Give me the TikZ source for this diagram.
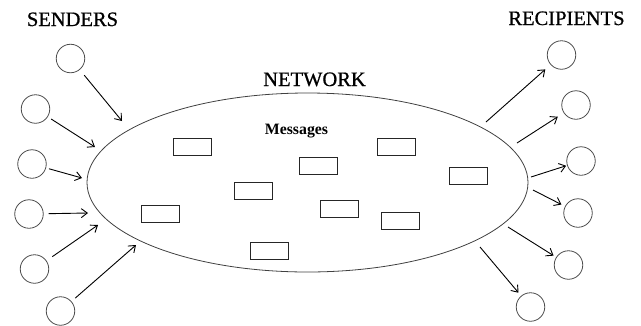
\documentclass[tikz,border=0pt]{standalone}
\usepackage{fontspec}
\setmainfont{Liberation Serif}
\newfontfamily\heavyserif[FakeBold=0.8]{Liberation Serif}
\usetikzlibrary{arrows.meta,shapes.geometric}
\begin{document}
\begin{tikzpicture}[x=1pt,y=-1pt,
  circ/.style={circle,draw=black!70,line width=0.8pt,minimum size=28.5pt,inner sep=0pt},
  msg/.style={rectangle,draw=black!85,line width=0.8pt,minimum width=38pt,minimum height=17pt,inner sep=0pt},
  arr/.style={draw=black,line width=0.9pt,-{Straight Barb[length=6pt,width=9pt,line width=0.9pt]}},
  title/.style={font=\heavyserif\fontsize{20.5}{22}\selectfont,anchor=base,inner sep=0pt}]
\useasboundingbox (0,0) rectangle (641,325);
% network
\node[ellipse,draw=black!75,line width=0.8pt,minimum width=441pt,minimum height=179pt,inner sep=0pt] (net) at (307.5,182.5) {};
% titles
\node[title] (tsend) at (72.5,26) {SENDERS};
\node[title] (trec) at (566.5,25) {RECIPIENTS};
\node[title] (tnet) at (314.5,86) {NETWORK};
\node[font=\bfseries\fontsize{15.8}{17}\selectfont,anchor=base,inner sep=0pt] (tmsg) at (296.5,134.5) {Messages};
% messages
\node[msg] (m1) at (192.5,146.5) {};
\node[msg] (m2) at (318,165.5) {};
\node[msg] (m3) at (396,146.5) {};
\node[msg] (m4) at (253.5,190.5) {};
\node[msg] (m5) at (160,213.5) {};
\node[msg] (m6) at (339,209) {};
\node[msg] (m7) at (400,220.5) {};
\node[msg] (m8) at (269,250.5) {};
\node[msg] (m9) at (468,175.5) {};
% senders
\node[circ] (s1) at (70.5,58.5) {};
\node[circ] (s2) at (35.5,109) {};
\node[circ] (s3) at (32,164) {};
\node[circ] (s4) at (29,214) {};
\node[circ] (s5) at (34.5,269) {};
\node[circ] (s6) at (60.5,311) {};
% recipients
\node[circ] (r1) at (561.5,55) {};
\node[circ] (r2) at (576,105) {};
\node[circ] (r3) at (581,161) {};
\node[circ] (r4) at (578,213) {};
\node[circ] (r5) at (568.5,265) {};
\node[circ] (r6) at (530.5,307) {};
% arrow ends at the network
\coordinate (e1) at (122,121);
\coordinate (e2) at (95,147);
\coordinate (e3) at (82,178);
\coordinate (e4) at (88,213);
\coordinate (e5) at (98,225);
\coordinate (e6) at (136,245);
\coordinate (f1) at (486,122);
\coordinate (f2) at (517,143);
\coordinate (f3) at (531,177);
\coordinate (f4) at (533,190);
\coordinate (f5) at (508,227);
\coordinate (f6) at (480,247);
% sender arrows
\draw[arr,shorten <=7pt] (s1) -- (e1);
\draw[arr,shorten <=4pt] (s2) -- (e2);
\draw[arr,shorten <=3pt] (s3) -- (e3);
\draw[arr,shorten <=5pt] (s4) -- (e4);
\draw[arr,shorten <=7pt] (s5) -- (e5);
\draw[arr,shorten <=5pt] (s6) -- (e6);
% recipient arrows
\draw[arr,shorten >=7pt] (f1) -- (r1);
\draw[arr,shorten >=7pt] (f2) -- (r2);
\draw[arr,shorten >=1pt] (f3) -- (r3);
\draw[arr,shorten >=4pt] (f4) -- (r4);
\draw[arr,shorten >=3pt] (f5) -- (r5);
\draw[arr,shorten >=4pt] (f6) -- (r6);
\end{tikzpicture}
\end{document}
